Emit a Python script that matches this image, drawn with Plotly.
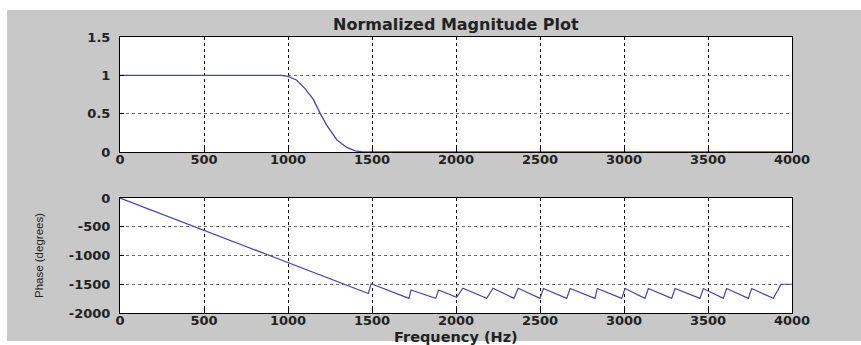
import plotly.graph_objects as go

# ---- data ----
freq_mag = [0, 960, 1000, 1050, 1100, 1150, 1190, 1230, 1290, 1350, 1400, 1445, 4000]
magnitude = [1, 1, 0.985, 0.94, 0.83, 0.69, 0.51, 0.35, 0.16, 0.06, 0.015, 0, 0]

freq_phase = [0, 1478, 1495, 1720, 1732, 1879, 1897, 2004, 2040, 2183, 2220, 2345, 2370,
              2500, 2520, 2659, 2679, 2827, 2841, 2986, 3006, 3125, 3145, 3284, 3304,
              3452, 3472, 3591, 3611, 3740, 3760, 3889, 3935, 4000]
phase = [0, -1660, -1490, -1745, -1600, -1745, -1600, -1725, -1570, -1745, -1570, -1745, -1570,
         -1745, -1575, -1745, -1575, -1745, -1575, -1745, -1575, -1745, -1575, -1745, -1575,
         -1745, -1575, -1745, -1575, -1745, -1575, -1745, -1500, -1500]

x_ticks = [0, 500, 1000, 1500, 2000, 2500, 3000, 3500, 4000]
x_tick_labels = ["0", "500", "1000", "1500", "2000", "2500", "3000", "3500", "4000"]
mag_ticks = [0, 0.5, 1, 1.5]
mag_tick_labels = ["0", "0.5", "1", "1.5"]
phase_ticks = [0, -500, -1000, -1500, -2000]
phase_tick_labels = ["0", "-500", "-1000", "-1500", "-2000"]

title_text = "Normalized Magnitude Plot"
x_title = "Frequency (Hz)"
y_title_phase = "Phase (degrees)"

# ---- styling ----
W, H = 861, 345
L, R, T, B = 120, 69, 37, 32
PH = H - T - B
line_color = "#4646a8"
tick_font = dict(family="DejaVu Sans", size=13, color="#222222", weight="bold")

fig = go.Figure()
fig.add_trace(go.Scatter(x=freq_mag, y=magnitude, mode="lines",
                         line=dict(color=line_color, width=1.3),
                         xaxis="x", yaxis="y", showlegend=False))
fig.add_trace(go.Scatter(x=freq_phase, y=phase, mode="lines",
                         line=dict(color=line_color, width=1.2),
                         xaxis="x2", yaxis="y2", showlegend=False))

def xax(anchor):
    return dict(range=[0, 4000], tickvals=x_ticks, ticktext=x_tick_labels,
                showline=True, mirror=True, linecolor="black", linewidth=1,
                ticks="inside", ticklen=4, tickcolor="black",
                showgrid=True, gridcolor="black", griddash="dot", gridwidth=1,
                zeroline=False, tickfont=tick_font, anchor=anchor,
                ticklabelstandoff=-5)

def yax(rng, vals, labels, domain, anchor):
    return dict(range=rng, tickvals=vals, ticktext=labels, domain=domain,
                showline=True, mirror=True, linecolor="black", linewidth=1,
                ticks="inside", ticklen=4, tickcolor="black",
                showgrid=True, gridcolor="#666666", griddash="3px,3px", gridwidth=1,
                zeroline=False, tickfont=tick_font, anchor=anchor,
                ticklabelstandoff=6)

top_dom = [(H - B - 152) / PH, 1.0]
bot_dom = [0.0, (H - B - 198) / PH]

fig.update_layout(
    width=W, height=H,
    margin=dict(l=L, r=R, t=T, b=B, autoexpand=False),
    paper_bgcolor="#c8c8c8", plot_bgcolor="white",
    xaxis=xax("y"),
    yaxis=yax([0, 1.5], mag_ticks, mag_tick_labels, top_dom, "x"),
    xaxis2=xax("y2"),
    yaxis2=dict(yax([-2000, 0], phase_ticks, phase_tick_labels, bot_dom, "x2"),
                title=dict(text=y_title_phase, standoff=22,
                           font=dict(family="Liberation Sans", size=11.5, color="#222222"))),
    showlegend=False,
)

def px_to_paper_x(px):
    return (px - L) / (W - L - R)

def px_to_paper_y(py):
    return (H - B - py) / PH

fig.add_annotation(text=title_text, xref="paper", yref="paper",
                   x=0.5, y=px_to_paper_y(24), xanchor="center", yanchor="middle",
                   showarrow=False,
                   font=dict(family="DejaVu Sans", size=16, color="#222222", weight="bold"))

fig.add_annotation(text=x_title, xref="paper", yref="paper",
                   x=0.5, y=px_to_paper_y(337), xanchor="center", yanchor="middle",
                   showarrow=False,
                   font=dict(family="DejaVu Sans", size=14.5, color="#222222", weight="bold"))

# white outer strips (top, left, bottom) around the gray figure area
strips = [(0, 0, W, 10), (0, 0, 7, H), (0, 341, W, H)]
for x0, y0, x1, y1 in strips:
    fig.add_shape(type="rect", xref="paper", yref="paper",
                  x0=px_to_paper_x(x0), x1=px_to_paper_x(x1),
                  y0=px_to_paper_y(y0), y1=px_to_paper_y(y1),
                  fillcolor="white", line=dict(width=0), layer="below")

fig.write_html("out.html")
